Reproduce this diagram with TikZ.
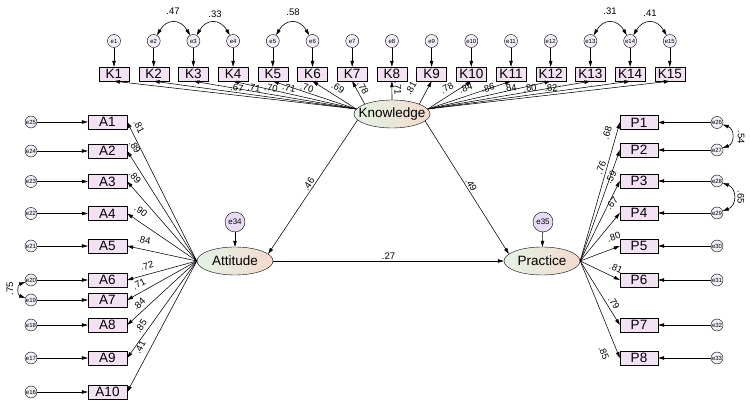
\documentclass[tikz,border=0pt]{standalone}
\usepackage{fontspec}
\setmainfont{Liberation Sans}
\usetikzlibrary{arrows.meta,shapes.geometric}
\definecolor{boxpink}{RGB}{243,226,243}
\definecolor{errfill}{RGB}{243,237,248}
\definecolor{errdark}{RGB}{232,220,243}
\definecolor{latgreen}{RGB}{226,243,229}
\definecolor{latpeach}{RGB}{243,218,205}

\begin{document}
\begin{tikzpicture}[x=1pt,y=1pt,
  obs/.style={draw, fill=boxpink, inner sep=0pt, minimum height=14pt, font=\fontsize{13.5}{14}\selectfont},
  lat/.style={draw, ellipse, left color=latgreen, right color=latpeach, inner xsep=-10pt, inner ysep=0pt,
    minimum width=76pt, minimum height=28pt, font=\fontsize{13.5}{14}\selectfont},
  err/.style={draw, circle, fill=errfill, inner sep=0pt, minimum size=13pt, font=\fontsize{6}{6}\selectfont},
  bigerr/.style={draw, circle, fill=errdark, inner sep=0pt, minimum size=20pt, font=\fontsize{8}{8}\selectfont},
  coef/.style={inner sep=0.3pt, font=\fontsize{9.5}{9.5}\selectfont},
  arr/.style={-{Triangle[length=6pt,width=3.5pt]}, line width=0.55pt},
  covarr/.style={{Triangle[length=6pt,width=3.5pt]}-{Triangle[length=6pt,width=3.5pt]}, line width=0.6pt}
]
\useasboundingbox (0,0) rectangle (750,-403);

% latent variables
\node[lat] (Know) at (392,-114) {Knowledge};
\node[lat] (Att) at (235,-261) {Attitude};
\node[lat] (Prac) at (542,-261) {Practice};

\node[bigerr] (e34) at (235,-222) {e34};
\node[bigerr] (e35) at (543,-222) {e35};
\draw[arr] (e34) -- (Att);
\draw[arr] (e35) -- (Prac);

% structural paths
\draw[arr] (Know.190) -- node[coef, sloped, above=1pt] (b1) {.46} (Att.12);
\draw[arr] (Know.-12) -- node[coef, sloped, above=1pt] (b2) {.49} (Prac.168);
\draw[arr] (Att) -- node[coef, above=1pt] (b3) {.27} (Prac);

% knowledge items
\foreach \i in {1,...,15}{
  \node[obs, minimum width=30pt] (K\i) at ({114+39.7*(\i-1)},-74) {K\i};
  \node[err] (e\i) at ({114+39.7*(\i-1)},-41) {e\i};
  \draw[arr] (e\i) -- (K\i);
}
\foreach \i/\a in {1/172,2/172,3/172,4/172,5/172,6/172,7/160,8/90,9/20,10/8,11/8,12/8,13/8,14/8,15/8}
  \draw[arr] (Know.\a) -- (K\i.south);
\foreach \x/\r/\v [count=\n] in {237/-6.3/.67, 254/-7.5/.71, 271/-9.3/.70, 289/-12.1/.71, 307/-17.4/.70,
    338/-30.3/.69, 363/-59.6/.78, 398/-90/.71, 411/59.6/.81, 447/30.3/.78, 466/17.4/.84, 488/12.1/.86,
    510/9.3/.84, 530/7.5/.80, 551/6.3/.82}
  \node[coef, rotate=\r] (lk\n) at (\x,-88) {\v};

\draw[covarr] (e2) to[out=60,in=120,looseness=1.5] (e3);
\draw[covarr] (e3) to[out=60,in=120,looseness=1.5] (e4);
\draw[covarr] (e5) to[out=60,in=120,looseness=1.5] (e6);
\draw[covarr] (e13) to[out=60,in=120,looseness=1.5] (e14);
\draw[covarr] (e14) to[out=60,in=120,looseness=1.5] (e15);
\node[coef] (c1) at (173,-11) {.47};
\node[coef] (c2) at (215,-14) {.33};
\node[coef] (c3) at (293,-12) {.58};
\node[coef] (c4) at (610,-11) {.31};
\node[coef] (c5) at (650,-13) {.41};

% attitude items
\foreach \i/\y/\e in {1/122/25, 2/151/24, 3/181.5/23, 4/213.5/22, 5/246/21,
    6/280/20, 7/300/19, 8/325/18, 9/358/17, 10/392/16}{
  \node[obs, minimum width=39pt] (A\i) at (107.5,-\y) {A\i};
  \node[err, minimum size=12pt] (e\e) at (31,-\y) {e\e};
  \draw[arr] (e\e) -- (A\i);
  \draw[arr] (Att.west) -- (A\i.east);
}
\foreach \x/\y/\r/\v [count=\n] in {139/127/-63.4/.81, 135/147/-57.7/.89, 135/177/-48.8/.89,
    141/211/-34.3/.90, 144/240/-12.2/.84, 147/266/15.3/.72, 139/284/29.3/.71,
    139/304/42.6/.84, 141/326/54.4/.85, 140/347/62.1/.41}
  \node[coef, rotate=\r] (la\n) at (\x,-\y) {\v};
\draw[covarr] (e20) to[out=200,in=160,looseness=1.4] (e19);
\node[coef, rotate=90] (c6) at (10,-289) {.75};

% practice items
\foreach \i/\y/\e in {1/122.5/26, 2/150/27, 3/181/28, 4/213/29, 5/246/30,
    6/280/31, 7/325/32, 8/358/33}{
  \node[obs, minimum width=38pt] (P\i) at (639,-\y) {P\i};
  \node[err, minimum size=12pt] (e\e) at (717,-\y) {e\e};
  \draw[arr] (e\e) -- (P\i);
  \draw[arr] (Prac.east) -- (P\i.west);
}
\foreach \x/\y/\r/\v [count=\n] in {607/133/73.9/.68, 601/168/70.2/.76, 611/177/63.4/.59,
    612/203/50.2/.67, 614/237/20.6/.80, 616/268/-25.4/.81, 614/303/-58/.79, 604/353/-67.6/.85}
  \node[coef, rotate=\r] (lp\n) at (\x,-\y) {\v};
\draw[covarr] (e26) to[out=-20,in=20,looseness=1.4] (e27);
\draw[covarr] (e28) to[out=-20,in=20,looseness=1.4] (e29);
\node[coef, rotate=-90] (c7) at (741,-137) {.54};
\node[coef, rotate=-90] (c8) at (741,-197) {.65};
\end{tikzpicture}
\end{document}
